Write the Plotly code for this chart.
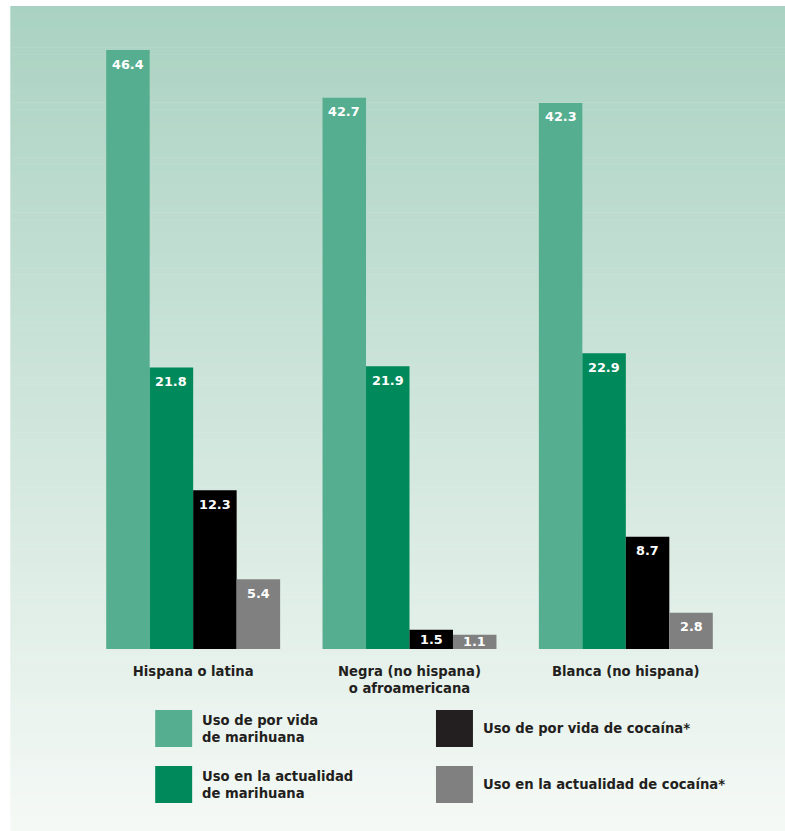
import plotly.graph_objects as go

# Data
categories = ["Hispana o latina", "Negra (no hispana)<br>o afroamericana", "Blanca (no hispana)"]
series_names = [
    "Uso de por vida<br>de marihuana",
    "Uso en la actualidad<br>de marihuana",
    "Uso de por vida de cocaína*",
    "Uso en la actualidad de cocaína*",
]
lifetime_marijuana = [46.4, 42.7, 42.3]
current_marijuana = [21.8, 21.9, 22.9]
lifetime_cocaine = [12.3, 1.5, 8.7]
current_cocaine = [5.4, 1.1, 2.8]
series_values = [lifetime_marijuana, current_marijuana, lifetime_cocaine, current_cocaine]

bar_colors = ["#55ae8f", "#00895a", "#000000", "#808080"]
swatch_colors = ["#55ae8f", "#00895a", "#231f20", "#808080"]
text_color = "#231f20"
FONT = "DejaVu Sans"

W, H = 785, 831
L, R, T, B = 84.75, 50.75, 50, 182
PW, PH = W - L - R, H - T - B
Y_MAX = 46.4
BARGAP = 0.196


def px_x(px):
    return (px - L) / PW


def px_y(py):
    return (H - B - py) / PH


fig = go.Figure()
for name, vals, col in zip(series_names, series_values, bar_colors):
    fig.add_trace(go.Bar(
        x=categories, y=vals, name=name,
        marker=dict(color=col, line=dict(width=0)),
        showlegend=False, hoverinfo="x+y",
    ))

annotations = []
# Value labels near the top of each bar (centred on short bars)
n_series = len(series_values)
cat_px = PW / len(categories)
bar_px = cat_px * (1 - BARGAP) / n_series
px_per_unit = PH / Y_MAX
for si, vals in enumerate(series_values):
    xshift = (si - (n_series - 1) / 2) * bar_px
    for cat, v in zip(categories, vals):
        h_px = v * px_per_unit
        if h_px > 28:
            y, ys = v, -14
        else:
            y, ys = v / 2, 0
        annotations.append(dict(
            xref="x", yref="y", x=cat, y=y, xshift=xshift, yshift=ys,
            xanchor="center", yanchor="middle", showarrow=False,
            text=f"{v:.1f}",
            font=dict(family=FONT, size=12.8, color="white", weight="bold"),
        ))

shapes = []
# Vertical background gradient built from thin strips
top_rgb = (170, 210, 194)
bot_rgb = (245, 249, 246)
y_top, y_bot = 6, 831
n = 120
for i in range(n):
    f = i / (n - 1)
    c = tuple(round(a + (b - a) * f) for a, b in zip(top_rgb, bot_rgb))
    y0 = y_top + (y_bot - y_top) * i / n
    y1 = y_top + (y_bot - y_top) * (i + 1) / n + 0.6
    shapes.append(dict(
        type="rect", xref="paper", yref="paper", layer="below",
        x0=px_x(10), x1=px_x(786), y0=px_y(min(y1, y_bot)), y1=px_y(y0),
        fillcolor=f"rgb{c}", line=dict(width=0),
    ))

# Legend: swatches + labels in two columns
legend_pos = [(155, 710), (155, 766), (436, 710), (436, 766)]
for (lx, ly), name, col in zip(legend_pos, series_names, swatch_colors):
    shapes.append(dict(
        type="rect", xref="paper", yref="paper",
        x0=px_x(lx), x1=px_x(lx + 37), y0=px_y(ly + 37), y1=px_y(ly),
        fillcolor=col, line=dict(width=0),
    ))
    annotations.append(dict(
        xref="paper", yref="paper", x=px_x(lx + 45), y=px_y(ly + 18.5),
        xanchor="left", yanchor="middle", align="left", showarrow=False,
        text=name, font=dict(family=FONT, size=13.2, color=text_color, weight="bold"),
    ))

fig.update_layout(
    width=W, height=H,
    margin=dict(l=L, r=R, t=T, b=B, pad=0),
    paper_bgcolor="white", plot_bgcolor="rgba(0,0,0,0)",
    barmode="group", bargap=BARGAP, bargroupgap=0,
    shapes=shapes, annotations=annotations,
    xaxis=dict(
        showgrid=False, zeroline=False, showline=False, ticks="",
        tickfont=dict(family=FONT, size=13.2, color=text_color, weight="bold"),
        ticklabelstandoff=13,
    ),
    yaxis=dict(range=[0, Y_MAX], visible=False, showgrid=False, zeroline=False),
)

fig.write_html("out.html")
